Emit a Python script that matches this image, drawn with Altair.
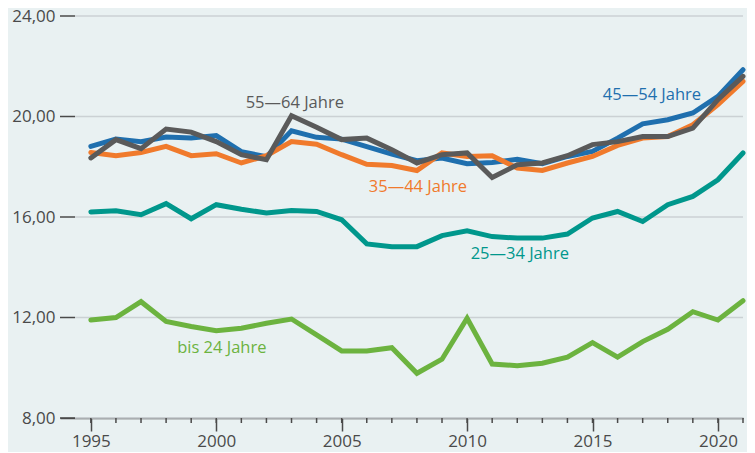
import altair as alt
import pandas as pd

years = [1995, 1996, 1997, 1998, 1999, 2000, 2001, 2002, 2003, 2004, 2005, 2006, 2007,
         2008, 2009, 2010, 2011, 2012, 2013, 2014, 2015, 2016, 2017, 2018, 2019, 2020, 2021]

bis24 = [11.90, 12.00, 12.63, 11.84, 11.64, 11.47, 11.57, 11.77, 11.94, 11.31, 10.67, 10.67, 10.80,
         9.78, 10.34, 11.97, 10.15, 10.08, 10.18, 10.42, 11.00, 10.42, 11.04, 11.53, 12.23, 11.90, 12.67]
a25_34 = [16.20, 16.25, 16.09, 16.53, 15.93, 16.49, 16.31, 16.16, 16.26, 16.22, 15.89, 14.93, 14.82,
          14.82, 15.26, 15.45, 15.22, 15.16, 15.16, 15.32, 15.96, 16.22, 15.82, 16.49, 16.82, 17.48, 18.55]
a35_44 = [18.57, 18.44, 18.57, 18.81, 18.44, 18.52, 18.15, 18.44, 19.00, 18.90, 18.48, 18.10, 18.05,
          17.85, 18.55, 18.41, 18.44, 17.95, 17.85, 18.15, 18.41, 18.85, 19.14, 19.20, 19.67, 20.47, 21.40]
a45_54 = [18.81, 19.10, 19.00, 19.18, 19.14, 19.24, 18.60, 18.40, 19.43, 19.17, 19.10, 18.80, 18.50,
          18.24, 18.35, 18.12, 18.17, 18.30, 18.12, 18.41, 18.61, 19.14, 19.71, 19.87, 20.14, 20.80, 21.86]
a55_64 = [18.35, 19.08, 18.72, 19.50, 19.38, 19.00, 18.48, 18.28, 20.03, 19.57, 19.08, 19.14, 18.68,
          18.15, 18.48, 18.55, 17.57, 18.08, 18.15, 18.44, 18.88, 19.00, 19.20, 19.20, 19.54, 20.67, 21.60]

series_names = ["bis 24 Jahre", "25\u201434 Jahre", "45\u201454 Jahre", "35\u201444 Jahre", "55\u201464 Jahre"]
series_values = [bis24, a25_34, a45_54, a35_44, a55_64]
series_colors = ["#6cb33f", "#00978c", "#1f6fae", "#f07a2c", "#5a5a5a"]

label_x = [2000.22, 2012.1, 2017.37, 2008.04, 2003.13]
label_y = [10.79, 14.53, 20.86, 17.19, 20.54]

y_ticks = [8, 12, 16, 20, 24]
x_major = [1995, 2000, 2005, 2010, 2015, 2020]

rows = []
for name, vals in zip(series_names, series_values):
    for yr, v in zip(years, vals):
        rows.append({"year": yr, "value": v, "series": name, "order": series_names.index(name)})
df = pd.DataFrame(rows)

labels_df = pd.DataFrame({"series": series_names, "x": label_x, "y": label_y})
yt_df = pd.DataFrame({"v": y_ticks})
yr_df = pd.DataFrame({"year": years})

W, H = 683, 402
FONT = "Open Sans"
AXIS_COL = "#4a4a4a"

xscale = alt.Scale(domain=[1993.77, 2021.0], nice=False, zero=False)
yscale = alt.Scale(domain=[8, 24], nice=False, zero=False)
color = alt.Color("series:N", scale=alt.Scale(domain=series_names, range=series_colors), legend=None)

grid = alt.Chart(yt_df).mark_rule(color="#cbd1d4", strokeWidth=1.5).encode(
    y=alt.Y("v:Q", scale=yscale,
            axis=alt.Axis(values=y_ticks, ticks=False, tickSize=0, domain=False, grid=False,
                          labelPadding=5, labelFontSize=17, labelFont=FONT, labelColor=AXIS_COL,
                          labelExpr="replace(format(datum.value, '.2f'), '.', ',')", title=None)),
    x=alt.value(15), x2=alt.value(W),
)

yticks = alt.Chart(yt_df).mark_rule(color=AXIS_COL, strokeWidth=1.5).encode(
    y=alt.Y("v:Q", scale=yscale), x=alt.value(0), x2=alt.value(15),
)

minors = alt.Chart(yr_df).mark_rule(color=AXIS_COL, strokeWidth=1.5).encode(
    x=alt.X("year:Q", scale=xscale), y=alt.value(H), y2=alt.value(H + 5),
)

lines = alt.Chart(df).mark_line(strokeWidth=5, strokeCap="round", strokeJoin="miter").encode(
    x=alt.X("year:Q", scale=xscale,
            axis=alt.Axis(values=x_major, tickSize=13, tickColor=AXIS_COL, tickWidth=1.5,
                          domainColor=AXIS_COL, domainWidth=1.5, grid=False,
                          labelOverlap=False, labelPadding=2, labelFontSize=17, labelFont=FONT,
                          labelColor=AXIS_COL, format="d", title=None)),
    y=alt.Y("value:Q", scale=yscale),
    color=color,
    detail="series:N",
    order="order:Q",
)

texts = alt.Chart(labels_df).mark_text(fontSize=16.5, font=FONT, align="center", baseline="middle").encode(
    x=alt.X("x:Q", scale=xscale), y=alt.Y("y:Q", scale=yscale), color=color, text="series:N",
)

chart = alt.layer(grid, yticks, minors, lines, texts).properties(
    width=W, height=H,
    autosize=alt.AutoSizeParams(type="none"),
    padding={"left": 52, "top": 8, "right": 4, "bottom": 34},
    background="#e9f1f2",
).configure_view(stroke=None)

chart.save("out.html", embed_options={"renderer": "svg", "actions": False})
